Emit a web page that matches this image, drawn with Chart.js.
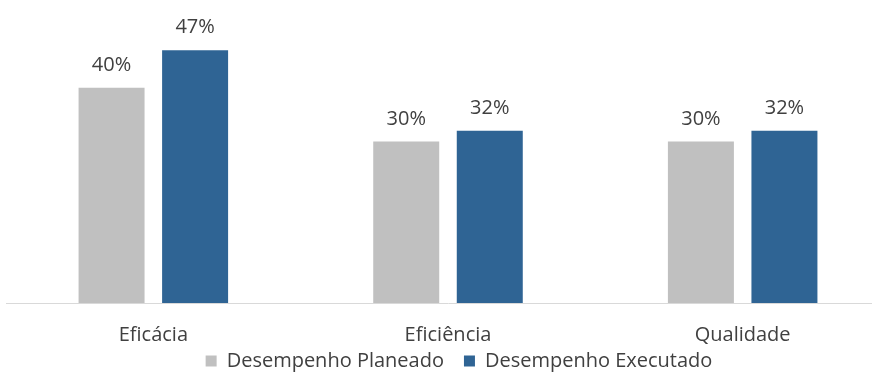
<!DOCTYPE html>
<html>
<head>
<meta charset="utf-8">
<script src="https://cdn.jsdelivr.net/npm/chart.js@4/dist/chart.umd.min.js"></script>
<style>
  html, body { margin: 0; padding: 0; background: #fff; overflow: hidden; }
  #wrap { position: absolute; left: 0; top: 0; width: 926px; height: 398px; }
</style>
</head>
<body>
<div id="wrap"><canvas id="chart_bar"></canvas></div>
<script>
// Data
categories = ["Eficácia", "Eficiência", "Qualidade"]
planeado = [40, 30, 30]
executado = [47, 32, 32]
series_names = ["Desempenho Planeado", "Desempenho Executado"]

var textColor = "#404040";
var fontName = "'Open Sans'";

// draws the value above each bar
var valueLabels = {
  id: 'valueLabels',
  afterDatasetsDraw: function(chart) {
    var ctx = chart.ctx;
    ctx.save();
    ctx.font = "20px " + fontName;
    ctx.fillStyle = textColor;
    ctx.textAlign = "center";
    ctx.textBaseline = "alphabetic";
    chart.data.datasets.forEach(function(ds, i) {
      chart.getDatasetMeta(i).data.forEach(function(bar, j) {
        ctx.fillText(ds.data[j] + "%", bar.x, bar.y - 17);
      });
    });
    ctx.restore();
  }
};

// legend sits closer to the category labels and a bit right of centre
var legendShift = {
  id: 'legendShift',
  afterLayout: function(chart) {
    var lg = chart.legend;
    var h = lg.bottom - lg.top;
    lg.left += 11;
    lg.right += 11;
    lg.top = 331;
    lg.bottom = 331 + h;
  }
};

var config = {
  type: 'bar',
  data: {
    labels: categories,
    datasets: [{
      label: series_names[0],
      backgroundColor: "#c0c0c0",
      data: planeado
    }, {
      label: series_names[1],
      backgroundColor: "#2f6494",
      data: executado
    }]
  },
  options: {
    responsive: true,
    maintainAspectRatio: false,
    animation: false,
    categoryPercentage: 0.567,
    barPercentage: 0.79,
    layout: { padding: { left: 6, right: 36, top: 34, bottom: 0 } },
    scales: {
      x: {
        grid: { display: false },
        border: { display: true, color: "#d9d9d9", width: 1 },
        ticks: { color: textColor, font: { family: fontName, size: 20 }, padding: 12 },
        afterFit: function(scale) { scale.height = 45; }
      },
      y: { display: false, min: 0, max: 50 }
    },
    plugins: {
      legend: {
        display: true,
        position: 'bottom',
        labels: {
          color: textColor,
          font: { family: fontName, size: 20 },
          boxWidth: 11,
          boxHeight: 11,
          padding: 20
        }
      },
      tooltip: { enabled: false }
    }
  },
  plugins: [valueLabels, legendShift]
};

var ctx = document.getElementById("chart_bar");
var ch_bar = new Chart(ctx, config);
</script>
</body>
</html>
